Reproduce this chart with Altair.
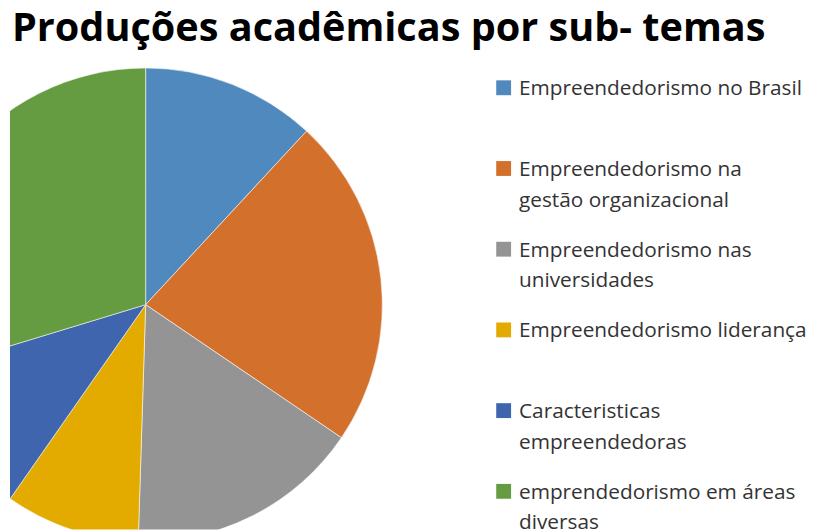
import json
import altair as alt
import pandas as pd

categories = [
    "Empreendedorismo no Brasil",
    "Empreendedorismo na gestão organizacional",
    "Empreendedorismo nas universidades",
    "Empreendedorismo liderança",
    "Caracteristicas empreendedoras",
    "emprendedorismo em áreas diversas",
]
legend_lines = [
    ["Empreendedorismo no Brasil", ""],
    ["Empreendedorismo na", "gestão organizacional"],
    ["Empreendedorismo nas", "universidades"],
    ["Empreendedorismo liderança", ""],
    ["Caracteristicas", "empreendedoras"],
    ["emprendedorismo em áreas", "diversas"],
]
shares = [11.9, 22.6, 16.0, 9.2, 10.6, 29.7]
colors = ["#4F89BD", "#D3702C", "#949494", "#E3AA00", "#3E65AE", "#659B41"]

df = pd.DataFrame({"cat": categories, "value": shares, "idx": list(range(len(categories)))})

label_map = json.dumps(dict(zip(categories, legend_lines)), ensure_ascii=False)

chart = (
    alt.Chart(df)
    .mark_arc(radius=239, clip=True, stroke="#ffffff", strokeWidth=0.7, strokeOpacity=0.8)
    .encode(
        theta=alt.Theta("value:Q", stack=True),
        color=alt.Color(
            "cat:N",
            sort=categories,
            scale=alt.Scale(domain=categories, range=colors),
            legend=alt.Legend(
                title=None,
                orient="none",
                legendX=488,
                legendY=23,
                direction="vertical",
                symbolType="M-1,-2H1V0H-1Z",
                symbolSize=225,
                symbolStrokeWidth=0,
                labelFont="Open Sans",
                labelFontSize=21,
                labelColor="#333333",
                labelBaseline="alphabetic",
                labelOffset=5,
                labelLimit=400,
                rowPadding=28.5,
                padding=0,
                labelExpr=label_map + "[datum.label]",
            ),
        ),
        order=alt.Order("idx:Q"),
        x=alt.value(137),
        y=alt.value(245),
    )
    .properties(
        width=824,
        height=472,
        autosize=alt.AutoSizeParams(type="none"),
        padding={"left": 2, "top": 52, "right": 0, "bottom": 0},
        title=alt.TitleParams(
            text="Produções acadêmicas por sub- temas",
            anchor="start",
            frame="group",
            font="Open Sans",
            fontSize=40,
            fontWeight="bold",
            color="#000000",
            baseline="alphabetic",
            offset=18,
            dx=2,
            dy=37,
        ),
    )
    .configure(style={"guide-label": {"lineHeight": 31}})
    .configure_view(strokeWidth=0)
)

chart.save("out.html", embed_options={"renderer": "svg", "actions": False})
